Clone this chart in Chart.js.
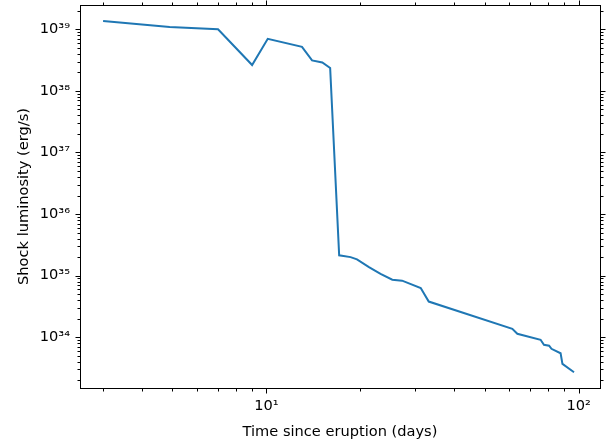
<!DOCTYPE html>
<html>
<head>
<meta charset="utf-8">
<script src="https://cdn.jsdelivr.net/npm/chart.js@4/dist/chart.umd.min.js"></script>
<style>
  html, body { margin: 0; padding: 0; background: #fff; }
</style>
</head>
<body>
<canvas id="chart" width="611" height="445"></canvas>
<script>
// values
const days = [3.0, 4.9, 7.0, 9.0, 10.1, 13.0, 14.0, 15.1, 16.0, 17.1, 18.6, 19.5, 21.3, 23.2,
  25.3, 27.2, 31.2, 33.1, 61.3, 63.6, 75.5, 77.4, 80.4, 81.8, 87.5, 88.7, 96.6];
const luminosity = [1.36e39, 1.09e39, 1.0e39, 2.63e38, 7.0e38, 5.2e38, 3.13e38, 2.9e38, 2.35e38,
  2.14e35, 2.0e35, 1.84e35, 1.38e35, 1.07e35, 8.6e34, 8.3e34, 6.3e34, 3.8e34, 1.37e34, 1.14e34,
  9.1e33, 7.55e33, 7.3e33, 6.5e33, 5.5e33, 3.7e33, 2.7e33];
const xTicks = [10, 100];
const yTicks = [1e34, 1e35, 1e36, 1e37, 1e38, 1e39];

const sup = { '0': '⁰', '1': '¹', '2': '²', '3': '³', '4': '⁴', '5': '⁵', '6': '⁶', '7': '⁷', '8': '⁸', '9': '⁹', '-': '⁻' };
function powLabel(v) {
  const e = String(Math.round(Math.log10(v)));
  return '10' + e.split('').map(c => sup[c]).join('');
}

function minorValues(min, max) {
  const out = [];
  for (let d = Math.floor(Math.log10(min)); d <= Math.ceil(Math.log10(max)); d++) {
    for (let m = 2; m <= 9; m++) {
      const v = m * Math.pow(10, d);
      if (v >= min && v <= max) out.push(v);
    }
  }
  return out;
}

// box round the plot with outward ticks on all four sides
const frame = {
  id: 'frame',
  afterDraw(chart) {
    const { ctx, chartArea: a, scales: { x, y } } = chart;
    const L = Math.round(a.left) + 0.5, R = Math.round(a.right) + 0.5;
    const T = Math.round(a.top) + 0.5, B = Math.round(a.bottom) + 0.5;
    ctx.save();
    ctx.strokeStyle = '#000';
    ctx.lineWidth = 1;
    ctx.strokeRect(L, T, R - L, B - T);
    ctx.beginPath();
    const xt = (v, len) => {
      const px = Math.round(x.getPixelForValue(v)) + 0.5;
      ctx.moveTo(px, B); ctx.lineTo(px, B + len);
      ctx.moveTo(px, T); ctx.lineTo(px, T - len);
    };
    const yt = (v, len) => {
      const py = Math.round(y.getPixelForValue(v)) + 0.5;
      ctx.moveTo(L, py); ctx.lineTo(L - len, py);
      ctx.moveTo(R, py); ctx.lineTo(R + len, py);
    };
    xTicks.forEach(v => xt(v, 5));
    yTicks.forEach(v => yt(v, 5));
    minorValues(x.min, x.max).forEach(v => xt(v, 3));
    minorValues(y.min, y.max).forEach(v => yt(v, 3));
    ctx.stroke();
    ctx.restore();
  }
};

const font = { family: 'DejaVu Sans', size: 14.6 };

new Chart(document.getElementById('chart'), {
  type: 'line',
  data: {
    datasets: [{
      data: days.map((d, i) => ({ x: d, y: luminosity[i] })),
      borderColor: '#1f77b4',
      borderWidth: 2,
      pointRadius: 0,
      fill: false,
      tension: 0
    }]
  },
  options: {
    responsive: false,
    animation: false,
    devicePixelRatio: 1,
    layout: { padding: { left: 0, top: 5, right: 11, bottom: 0 } },
    plugins: { legend: { display: false }, tooltip: { enabled: false } },
    scales: {
      x: {
        type: 'logarithmic',
        min: 2.53,
        max: 117,
        grid: { display: false, drawTicks: false },
        border: { display: false },
        afterBuildTicks: s => { s.ticks = xTicks.map(v => ({ value: v })); },
        afterFit: s => { s.height = 57; s.paddingLeft = 0; s.paddingRight = 0; },
        ticks: { color: '#000', font, padding: 9, maxRotation: 0, autoSkip: false, callback: v => powLabel(v) },
        title: { display: true, text: 'Time since eruption (days)', color: '#000', font, padding: { top: 2, bottom: 4 } }
      },
      y: {
        type: 'logarithmic',
        min: 1.5e33,
        max: 2.48e39,
        grid: { display: false, drawTicks: false },
        border: { display: false },
        afterBuildTicks: s => { s.ticks = yTicks.map(v => ({ value: v })); },
        afterFit: s => { s.width = 80; s.paddingTop = 0; s.paddingBottom = 0; },
        ticks: { color: '#000', font, padding: 10, autoSkip: false, callback: v => powLabel(v) },
        title: { display: true, text: 'Shock luminosity (erg/s)', color: '#000', font, padding: { top: 15, bottom: 4 } }
      }
    }
  },
  plugins: [frame]
});
</script>
</body>
</html>
